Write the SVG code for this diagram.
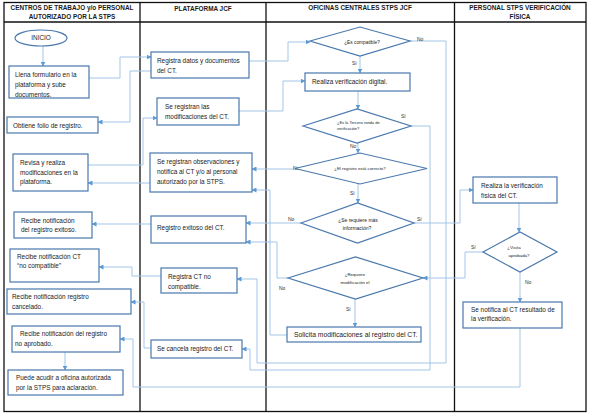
<svg xmlns="http://www.w3.org/2000/svg" width="589" height="415" viewBox="0 0 589 415">
<style>
.hd{font-family:"Liberation Sans",Arial,sans-serif;font-weight:bold;font-size:6.4px;fill:#1a1a1a;text-anchor:middle}
.t{font-family:"Liberation Sans",Arial,sans-serif;font-size:6.4px;fill:#222}
.dt{font-family:"Liberation Sans",Arial,sans-serif;font-size:4.4px;fill:#222;text-anchor:middle}
.lb{font-family:"Liberation Sans",Arial,sans-serif;font-size:5px;fill:#333}
.bx{fill:#fff;stroke:#4a78ad;stroke-width:1.2}
.tb{fill:none;stroke:#111;stroke-width:1.3}
.cn{fill:none;stroke:#a3c5e8;stroke-width:1;marker-end:url(#ah)}
</style>
<defs>
<marker id="ah" markerUnits="userSpaceOnUse" markerWidth="5" markerHeight="5" refX="4.5" refY="2.5" orient="auto">
<path d="M0,0 L5,2.5 L0,5 Z" fill="#5b9bd5"/>
</marker>
</defs>
<rect x="0" y="0" width="589" height="415" fill="#fff"/>
<g id="table">
<rect class="tb" x="4" y="2.5" width="582" height="409"/>
<line class="tb" x1="4" y1="22" x2="586" y2="22"/>
<line class="tb" x1="140" y1="2.5" x2="140" y2="411.5"/>
<line class="tb" x1="266" y1="2.5" x2="266" y2="411.5"/>
<line class="tb" x1="454.5" y1="2.5" x2="454.5" y2="411.5"/>
<text class="hd" x="72" y="10">CENTROS DE TRABAJO y/o PERSONAL</text>
<text class="hd" x="72" y="19">AUTORIZADO POR LA STPS</text>
<text class="hd" x="203" y="11">PLATAFORMA JCF</text>
<text class="hd" x="360" y="10">OFICINAS CENTRALES STPS JCF</text>
<text class="hd" x="520" y="10">PERSONAL STPS VERIFICACIÓN</text>
<text class="hd" x="520" y="19">FÍSICA</text>
</g>
<g id="connectors">
<polyline class="cn" points="43,46 43,66"/>
<polyline class="cn" points="89,78 120,78 120,57 151,57"/>
<polyline class="cn" points="151,71 130,71 130,122 98,122"/>
<polyline class="cn" points="249,61 288,61 288,42 310,42"/>
<polyline class="cn" points="360,56 360,73"/>
<polyline class="cn" points="410,41 446,41 446,363 257,363 257,279 237,279"/>
<polyline class="cn" points="358,91 358,109"/>
<polyline class="cn" points="358,143 358,153"/>
<polyline class="cn" points="411,126 430,126 430,370 250,370 250,349 242,349"/>
<polyline class="cn" points="295,169 252,169"/>
<polyline class="cn" points="358,184 358,203"/>
<polyline class="cn" points="301,223 246,223"/>
<polyline class="cn" points="414,223 460,223 460,190 473,190"/>
<polyline class="cn" points="519,203 519,232"/>
<polyline class="cn" points="483,252 465,252 465,278 423,278"/>
<polyline class="cn" points="520,272 520,302"/>
<polyline class="cn" points="520,328 520,387 133,387 133,339 120,339"/>
<polyline class="cn" points="355,299 355,327"/>
<polyline class="cn" points="288,278 277,278 277,242 246,242"/>
<polyline class="cn" points="287,335 270,335 270,190 252,190"/>
<polyline class="cn" points="239,111 283,111 283,81 305,81"/>
<polyline class="cn" points="88,165 143,165 143,118 157,118"/>
<polyline class="cn" points="150,183 88,183"/>
<polyline class="cn" points="151,224 92,224"/>
<polyline class="cn" points="161,276 132,276 132,267 99,267"/>
<polyline class="cn" points="151,348 144,348 144,302 131,302"/>
<polyline class="cn" points="65,352 65,370"/>
<text class="lb" x="417" y="41">No</text>
<text class="lb" x="352" y="65">Sí</text>
<text class="lb" x="401" y="118">Sí</text>
<text class="lb" x="350" y="148">No</text>
<text class="lb" x="293" y="170">No</text>
<text class="lb" x="350" y="195">Sí</text>
<text class="lb" x="288" y="221">No</text>
<text class="lb" x="417" y="221">Sí</text>
<text class="lb" x="471" y="249">Sí</text>
<text class="lb" x="525" y="284">No</text>
<text class="lb" x="279" y="290">No</text>
<text class="lb" x="346" y="311">Sí</text>
</g>
<g id="inicio">
<ellipse class="bx" cx="41" cy="38" rx="26" ry="8"/>
<text class="t" x="41" y="40.3" text-anchor="middle">INICIO</text>
</g>
<g id="llena">
<rect class="bx" x="9" y="66" width="80" height="32"/>
<text class="t" x="15" y="77">Llena formulario en la</text>
<text class="t" x="15" y="87">plataforma y sube</text>
<text class="t" x="15" y="96.5">documentos.</text>
</g>
<g id="folio">
<rect class="bx" x="7" y="117" width="91" height="16"/>
<text class="t" x="13" y="128">Obtiene folio de registro.</text>
</g>
<g id="revisa">
<rect class="bx" x="13" y="154" width="75" height="37"/>
<text class="t" x="20" y="165">Revisa y realiza</text>
<text class="t" x="20" y="175">modificaciones en la</text>
<text class="t" x="20" y="184">plataforma.</text>
</g>
<g id="recibe-exitoso">
<rect class="bx" x="14" y="212" width="78" height="26"/>
<text class="t" x="21" y="223">Recibe notificación</text>
<text class="t" x="21" y="232">del registro exitoso.</text>
</g>
<g id="recibe-nocompatible">
<rect class="bx" x="10" y="249" width="89" height="33"/>
<text class="t" x="17" y="259">Recibe notificación CT</text>
<text class="t" x="17" y="268">“no compatible”</text>
</g>
<g id="recibe-cancelado">
<rect class="bx" x="7" y="289" width="124" height="25"/>
<text class="t" x="12" y="299">Recibe notificación registro</text>
<text class="t" x="12" y="309">cancelado.</text>
</g>
<g id="recibe-noaprobado">
<rect class="bx" x="12" y="326" width="108" height="26"/>
<text class="t" x="20" y="336">Recibe notificación del registro</text>
<text class="t" x="15" y="346">no aprobado.</text>
</g>
<g id="puede-acudir">
<rect class="bx" x="8" y="370" width="115" height="25"/>
<text class="t" x="16" y="380">Puede acudir a oficina autorizada</text>
<text class="t" x="16" y="390">por la STPS para aclaración.</text>
</g>
<g id="registra-datos">
<rect class="bx" x="151" y="52" width="98" height="26"/>
<text class="t" x="157" y="63">Registra datos y documentos</text>
<text class="t" x="157" y="73">del CT.</text>
</g>
<g id="registran-modif">
<rect class="bx" x="157" y="98" width="82" height="27"/>
<text class="t" x="165" y="109">Se registran las</text>
<text class="t" x="165" y="119">modificaciones del CT.</text>
</g>
<g id="registran-obs">
<rect class="bx" x="150" y="153" width="102" height="39"/>
<text class="t" x="157" y="164">Se registran observaciones y</text>
<text class="t" x="157" y="174">notifica al CT y/o al personal</text>
<text class="t" x="157" y="184">autorizado por la STPS.</text>
</g>
<g id="registro-exitoso">
<rect class="bx" x="151" y="216" width="95" height="27"/>
<text class="t" x="157" y="230">Registro exitoso del CT.</text>
</g>
<g id="registra-nocompatible">
<rect class="bx" x="161" y="268" width="76" height="25"/>
<text class="t" x="168" y="279">Registra CT no</text>
<text class="t" x="168" y="289">compatible.</text>
</g>
<g id="cancela">
<rect class="bx" x="151" y="340" width="91" height="18"/>
<text class="t" x="157" y="351">Se cancela registro del CT.</text>
</g>
<g id="d-compatible">
<polygon class="bx" points="310,41 360,27 410,41 360,56"/>
<text class="dt" x="362" y="43.5" style="font-size:4.8px">¿Es compatible?</text>
</g>
<g id="verif-digital">
<rect class="bx" x="305" y="73" width="105" height="18"/>
<text class="t" x="312" y="84.3">Realiza verificación digital.</text>
</g>
<g id="d-tercera">
<polygon class="bx" points="303,126 357,109 411,126 357,143"/>
<text class="dt" x="337" y="124" style="text-anchor:start;font-size:4px">¿Es la Tercera ronda de</text>
<text class="dt" x="337" y="129.5" style="text-anchor:start;font-size:4px">verificación?</text>
</g>
<g id="d-correcto">
<polygon class="bx" points="295,168.5 360,153 427,168.5 360,184"/>
<text class="dt" x="360" y="170">¿El registro está correcto?</text>
</g>
<g id="d-masinfo">
<polygon class="bx" points="301,223 357.5,203 414,223 357.5,243"/>
<text class="dt" x="358" y="222" style="font-size:5px">¿Se requiere más</text>
<text class="dt" x="357" y="230" style="font-size:5px">información?</text>
</g>
<g id="d-modificacion">
<polygon class="bx" points="288,278 355.5,257 423,278 355.5,299"/>
<text class="dt" x="355" y="275.5">¿Requiere</text>
<text class="dt" x="355" y="283.5">modificación el</text>
</g>
<g id="solicita">
<rect class="bx" x="287" y="327" width="134" height="15"/>
<text class="t" x="294" y="337" style="font-size:6.8px">Solicita modificaciones al registro del CT.</text>
</g>
<g id="verif-fisica">
<rect class="bx" x="473" y="177" width="84" height="26"/>
<text class="t" x="481" y="188">Realiza la verificación</text>
<text class="t" x="481" y="198">física del CT.</text>
</g>
<g id="d-visita">
<polygon class="bx" points="483,252 520,232 557,252 520,272"/>
<text class="dt" x="514" y="249">¿Visita</text>
<text class="dt" x="519" y="256.5">aprobada?</text>
</g>
<g id="notifica">
<rect class="bx" x="463" y="302" width="99" height="26"/>
<text class="t" x="471" y="311.5">Se notifica al CT resultado de</text>
<text class="t" x="471" y="321">la verificación.</text>
</g>
</svg>
